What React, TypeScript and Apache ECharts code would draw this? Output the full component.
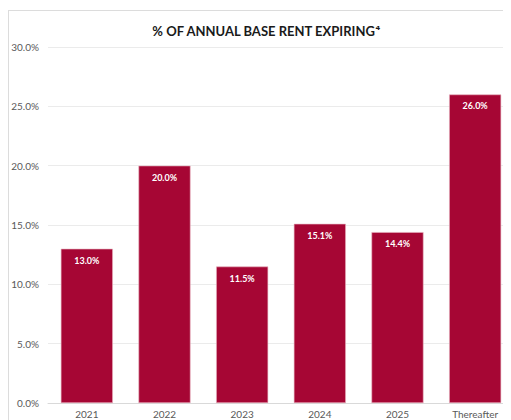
import React, { useEffect, useRef } from "react";
import * as echarts from "echarts";

const categories = ["2021", "2022", "2023", "2024", "2025", "Thereafter"];
const values = [13.0, 20.0, 11.5, 15.1, 14.4, 26.0];
const titleMain = "% OF ANNUAL BASE RENT EXPIRING";
const titleNote = "⁴";

export default function App() {
  const ref = useRef<HTMLDivElement>(null);
  useEffect(() => {
    if (!ref.current) return;
    const chart = echarts.init(ref.current, undefined, { renderer: "svg" });
    chart.setOption({
      animation: false,
      backgroundColor: "#ffffff",
      title: {
        text: `{a|${titleMain}}{s|${titleNote}}`,
        left: "center",
        top: 11,
        textStyle: {
          rich: {
            a: { fontFamily: "Lato", fontSize: 13, fontWeight: "bold", color: "#1a1a1a" },
            s: { fontFamily: "DejaVu Sans", fontSize: 11, fontWeight: "bold", color: "#1a1a1a" },
          },
        },
      },
      grid: { left: 40, right: 10, top: 39, bottom: 45, containLabel: false },
      xAxis: {
        type: "category",
        data: categories,
        axisLine: { lineStyle: { color: "#d9d9d9" } },
        axisTick: { show: false },
        axisLabel: { color: "#595959", fontFamily: "Lato", fontSize: 10, margin: 6 },
      },
      yAxis: {
        type: "value",
        min: 0,
        max: 30,
        interval: 5,
        axisLine: { show: false },
        axisTick: { show: false },
        splitLine: { lineStyle: { color: "#ebebeb" } },
        axisLabel: {
          color: "#595959",
          fontFamily: "Lato",
          fontSize: 10,
          margin: 9,
          formatter: (v: number) => v.toFixed(1) + "%",
        },
      },
      series: [
        {
          type: "bar",
          data: values,
          barCategoryGap: "33%",
          itemStyle: { color: "#A60634", borderColor: "#e8b3c0", borderWidth: 0.6 },
          label: {
            show: true,
            position: "insideTop",
            distance: 7,
            color: "#ffffff",
            fontFamily: "Lato",
            fontWeight: "bold",
            fontSize: 9,
            formatter: (p: any) => Number(p.value).toFixed(1) + "%",
          },
        },
      ],
    });
    return () => chart.dispose();
  }, []);
  return (
    <div style={{ position: "relative", width: 503, height: 412, overflow: "hidden" }}>
      <div
        ref={ref}
        style={{ position: "absolute", left: 0, top: 0, width: 516, height: 440 }}
      />
      <div
        style={{
          position: "absolute",
          left: 0,
          top: 2,
          width: 516,
          height: 440,
          border: "1px solid #dcdcdc",
          boxSizing: "border-box",
          pointerEvents: "none",
        }}
      />
    </div>
  );
}
